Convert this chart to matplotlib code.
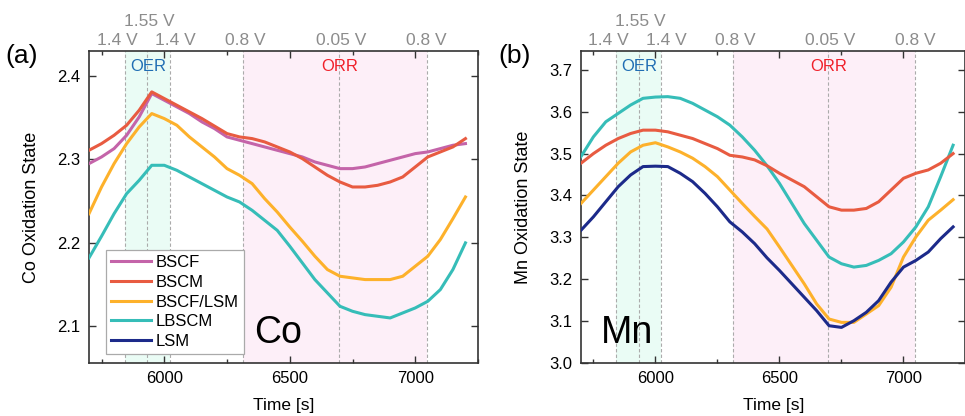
import numpy as np
import matplotlib.pyplot as plt
from matplotlib.lines import Line2D

plt.rcParams['font.family'] = ['Liberation Sans', 'DejaVu Sans']

# time axis of the in-situ scan (s)
time_s = np.arange(5700, 7201, 50)

# Co oxidation state
co_bscf = [2.295, 2.303, 2.313, 2.329, 2.351, 2.379, 2.371, 2.363, 2.355, 2.345, 2.337,
           2.327, 2.323, 2.319, 2.315, 2.311, 2.307, 2.303, 2.297, 2.293, 2.289, 2.289,
           2.291, 2.295, 2.299, 2.303, 2.307, 2.309, 2.313, 2.317, 2.319]
co_bscm = [2.311, 2.319, 2.329, 2.341, 2.359, 2.381, 2.373, 2.365, 2.357, 2.349, 2.340,
           2.331, 2.327, 2.325, 2.321, 2.315, 2.309, 2.301, 2.291, 2.281, 2.273, 2.267,
           2.267, 2.269, 2.273, 2.279, 2.291, 2.303, 2.309, 2.315, 2.325]
co_bscf_lsm = [2.235, 2.267, 2.295, 2.319, 2.339, 2.355, 2.349, 2.341, 2.327, 2.315, 2.303,
               2.289, 2.281, 2.271, 2.253, 2.237, 2.219, 2.202, 2.184, 2.168, 2.160, 2.158,
               2.156, 2.156, 2.156, 2.160, 2.172, 2.184, 2.204, 2.229, 2.255]
co_lbscm = [2.182, 2.208, 2.235, 2.259, 2.275, 2.293, 2.293, 2.287, 2.279, 2.271, 2.263,
            2.255, 2.249, 2.239, 2.227, 2.215, 2.196, 2.176, 2.156, 2.140, 2.124, 2.118,
            2.114, 2.112, 2.110, 2.116, 2.122, 2.130, 2.144, 2.168, 2.200]

# Mn oxidation state
mn_bscm = [3.477, 3.500, 3.520, 3.536, 3.548, 3.556, 3.556, 3.552, 3.544, 3.536, 3.524,
           3.512, 3.496, 3.492, 3.485, 3.471, 3.453, 3.437, 3.421, 3.397, 3.373, 3.365,
           3.365, 3.369, 3.385, 3.413, 3.441, 3.453, 3.461, 3.477, 3.500]
mn_bscf_lsm = [3.381, 3.413, 3.445, 3.477, 3.504, 3.520, 3.526, 3.516, 3.504, 3.489, 3.469,
               3.445, 3.413, 3.381, 3.350, 3.320, 3.277, 3.233, 3.189, 3.141, 3.105, 3.097,
               3.097, 3.117, 3.137, 3.181, 3.253, 3.301, 3.341, 3.365, 3.390]
mn_lbscm = [3.493, 3.540, 3.576, 3.596, 3.616, 3.632, 3.635, 3.636, 3.632, 3.620, 3.604,
            3.588, 3.568, 3.540, 3.508, 3.471, 3.429, 3.381, 3.333, 3.293, 3.253, 3.237,
            3.229, 3.233, 3.245, 3.261, 3.289, 3.325, 3.373, 3.445, 3.520]
mn_lsm = [3.317, 3.349, 3.385, 3.421, 3.449, 3.469, 3.470, 3.469, 3.453, 3.433, 3.405,
          3.373, 3.337, 3.313, 3.285, 3.251, 3.221, 3.189, 3.157, 3.125, 3.089, 3.085,
          3.101, 3.121, 3.149, 3.193, 3.229, 3.245, 3.265, 3.297, 3.325]

# potential turning points of the CV sweep
sweep_t = [5842, 5933, 6023, 6314, 6697, 7045]
sweep_label_t = [5812, 5940, 6046, 6322, 6703, 7046]
sweep_labels = ['1.4 V', '1.55 V', '1.4 V', '0.8 V', '0.05 V', '0.8 V']
sweep_row = [0, 1, 0, 0, 0, 0]

samples = ['BSCF', 'BSCM', 'BSCF/LSM', 'LBSCM', 'LSM']
colors = {'BSCF': '#c464a9', 'BSCM': '#e85b41', 'BSCF/LSM': '#fdb12b',
          'LBSCM': '#36bdb8', 'LSM': '#1c2a8a'}

co_data = {'BSCF': co_bscf, 'BSCM': co_bscm, 'BSCF/LSM': co_bscf_lsm, 'LBSCM': co_lbscm}
mn_data = {'BSCM': mn_bscm, 'BSCF/LSM': mn_bscf_lsm, 'LBSCM': mn_lbscm, 'LSM': mn_lsm}

fig = plt.figure(figsize=(9.65, 4.16), dpi=100)
ax1 = fig.add_axes([89 / 965, 0.1274, 389 / 965, 0.75])
ax2 = fig.add_axes([581 / 965, 0.1274, 384.5 / 965, 0.75])


def decorate(ax, xlim, ylim, yticks, ylabel, letter, element, elem_pos):
    ax.set_xlim(*xlim)
    ax.set_ylim(*ylim)
    ax.axvspan(sweep_t[0], sweep_t[2], color='#eafcf5', zorder=0, lw=0)
    ax.axvspan(sweep_t[3], sweep_t[5], color='#fdeff8', zorder=0, lw=0)
    for t in sweep_t:
        ax.axvline(t, color='#ababab', lw=0.8, ls=(0, (3, 2)), zorder=1)
    for t, lab, row in zip(sweep_label_t, sweep_labels, sweep_row):
        ax.text(t, 1.035 + 0.061 * row, lab, transform=ax.get_xaxis_transform(),
                ha='center', va='center', fontsize=12.5, color='#8c8c8c')
    ax.text(5935, 0.95, 'OER', transform=ax.get_xaxis_transform(),
            ha='center', va='center', fontsize=12, color='#1f6db3')
    ax.text(6697, 0.95, 'ORR', transform=ax.get_xaxis_transform(),
            ha='center', va='center', fontsize=12, color='#f0202a')
    ax.set_xticks([6000, 6500, 7000])
    ax.set_xticks([5750, 6250, 6750, 7250], minor=True)
    ax.set_yticks(yticks)
    ax.tick_params(which='both', direction='in', top=True, right=True,
                   labelsize=12, color='#333333', width=1.0)
    ax.tick_params(which='major', length=5, pad=6)
    ax.tick_params(which='minor', length=3)
    for s in ax.spines.values():
        s.set_color('#333333')
        s.set_linewidth(1.2)
    ax.set_xlabel('Time [s]', fontsize=12.5)
    ax.xaxis.set_label_coords(0.5, -0.112)
    ax.set_ylabel(ylabel, fontsize=13)
    ax.yaxis.set_label_coords(-0.125, 0.5)
    ax.text(-0.173, 0.985, letter, transform=ax.transAxes, ha='center', va='center',
            fontsize=19)
    ax.text(elem_pos[0], elem_pos[1], element, ha='left', va='baseline', fontsize=27)


decorate(ax1, (5700, 7200), (2.056, 2.43), [2.1, 2.2, 2.3, 2.4],
         'Co Oxidation State', '(a)', 'Co', (6358, 2.08))
decorate(ax2, (5700, 7180), (3.0, 3.745), [3.0, 3.1, 3.2, 3.3, 3.4, 3.5, 3.6, 3.7],
         'Mn Oxidation State', '(b)', 'Mn', (5780, 3.047))
ax2.yaxis.set_label_coords(-0.128, 0.5)

for name in samples:
    if name in co_data:
        ax1.plot(time_s, co_data[name], color=colors[name], lw=2.2, zorder=3)
for name in ['LBSCM', 'BSCM', 'BSCF/LSM', 'LSM']:
    ax2.plot(time_s, mn_data[name], color=colors[name], lw=2.2, zorder=3)

handles = [Line2D([], [], color=colors[n], lw=2.2) for n in samples]
leg = ax1.legend(handles, samples, loc='lower left', bbox_to_anchor=(0.044, 0.029),
                 borderaxespad=0, fontsize=12, handlelength=2.4, handletextpad=0.3,
                 labelspacing=0.28, borderpad=0.3, fancybox=False, framealpha=1)
leg.get_frame().set_edgecolor('#aaaaaa')
leg.get_frame().set_linewidth(0.9)

fig.savefig('out.png', dpi=100)
